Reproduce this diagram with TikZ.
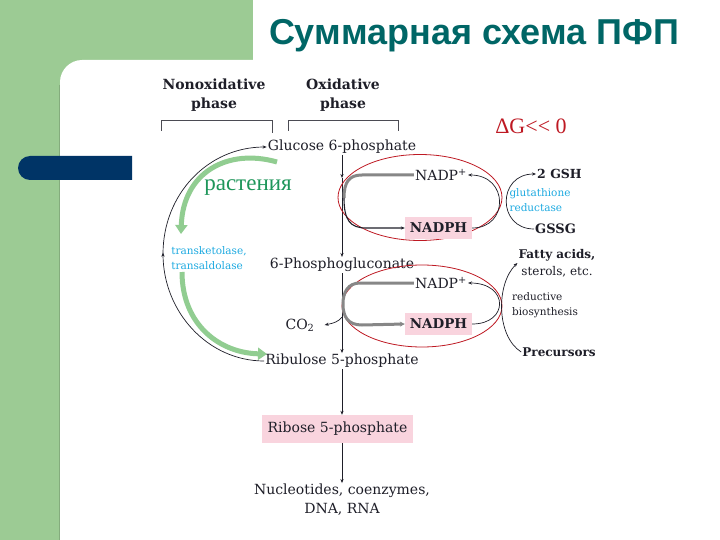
\documentclass[tikz,border=0pt]{standalone}
\usepackage{fontspec}
\setmainfont{DejaVu Serif}
\newfontfamily\titlefont{Liberation Sans}
\newfontfamily\tnr{Liberation Serif}
\usetikzlibrary{arrows.meta,decorations.markings}
\definecolor{bggreen}{RGB}{156,203,148}
\definecolor{barblue}{RGB}{0,52,102}
\definecolor{titlec}{RGB}{0,102,102}
\definecolor{pinkbox}{RGB}{249,212,222}
\definecolor{ellred}{RGB}{190,25,35}
\definecolor{cyant}{RGB}{30,170,225}
\definecolor{arcgreen}{RGB}{145,205,145}
\definecolor{txtgreen}{RGB}{30,150,90}
\definecolor{cofgrey}{RGB}{135,135,135}
\definecolor{ink}{RGB}{30,30,40}
\begin{document}
\begin{tikzpicture}[x=1pt,y=-1pt,
  lbl/.style={inner sep=1pt, text=ink, font=\fontsize{14}{16}\selectfont},
  boldlbl/.style={inner sep=1pt, text=ink, font=\fontsize{13}{15}\selectfont\bfseries},
  smalllbl/.style={inner sep=1pt, align=left, font=\fontsize{10.5}{15}\selectfont},
  pinkb/.style={fill=pinkbox, inner sep=0pt, text=ink, minimum width=67pt, minimum height=22pt, font=\fontsize{13.5}{15}\selectfont\bfseries},
  conn/.style={draw=ink, line width=0.7pt, -{Stealth[length=4pt,width=3.2pt]}},
  bracket/.style={draw=ink!80, line width=0.8pt},
  ell/.style={draw=ellred, line width=0.8pt},
  greenarc/.style={draw=arcgreen, line width=5pt, -{Triangle[length=9pt,width=12pt]}},
  cof/.style={draw=cofgrey, line width=3pt},
  midarrow/.style={postaction={decorate}, decoration={markings, mark=at position 0.5 with {\arrow{Stealth[length=4pt,width=3.2pt]}}}}
]
\useasboundingbox (0,0) rectangle (720,540);
% background
\fill[bggreen] (0,0) rectangle (720,540);
\fill[white] (253,0) rectangle (720,61);
\fill[white] (60,540) -- (60,82) .. controls (60,70) and (70,60) .. (82,60) -- (720,60) -- (720,540) -- cycle;
\draw[bggreen!70!black, line width=1pt, opacity=0.5] (59.5,85) -- (59.5,540);
\fill[barblue] (132,156) -- (30,156) .. controls (23.4,156) and (18,161.4) .. (18,168) .. controls (18,174.6) and (23.4,180) .. (30,180) -- (132,180) -- cycle;
% title
\node[text=titlec, font=\titlefont\fontsize{36}{40}\selectfont\bfseries] (title) at (474,36) {Суммарная схема ПФП};

% phase headings
\node[boldlbl, align=center, font=\fontsize{14}{19}\selectfont\bfseries] (nonox) at (214,95) {Nonoxidative\\phase};
\node[boldlbl, align=center, font=\fontsize{14}{19}\selectfont\bfseries] (oxid) at (343,95) {Oxidative\\phase};
\draw[bracket] (161,131) -- (161,120) -- (272,120) -- (272,133);
\draw[bracket] (288,131) -- (288,120) -- (398,120) -- (398,131);

\node[text=ellred, font=\tnr\fontsize{22}{24}\selectfont] (dg) at (531,126) {ΔG<\kern0pt< 0};

% main chain
\node[lbl] (glc) at (342,147) {Glucose 6-phosphate};
\node[lbl] (pg) at (342,265) {6-Phosphogluconate};
\node[lbl] (rib) at (342,361) {Ribulose 5-phosphate};
\node[lbl, fill=pinkbox, inner sep=0pt, minimum width=151pt, minimum height=28pt] (r5p) at (337.5,429) {Ribose 5-phosphate};
\node[lbl, align=center, font=\fontsize{14}{19}\selectfont] (nuc) at (342,500) {Nucleotides, coenzymes,\\DNA, RNA};
\node[lbl] (co2) at (300,325) {CO\textsubscript{2}};

\coordinate (m1) at (342,178);
\coordinate (b1) at (342,317);
\draw[conn] (glc.south) -- (m1);
\draw[conn] (m1) -- (pg.north);
\draw[conn] (pg.south) -- (rib.north);
\draw[conn] (rib.south) -- (rib.south |- r5p.north);
\draw[conn] (nuc.north |- r5p.south) -- (nuc.north);
\draw[conn] (b1) .. controls (338,322) and (334,323) .. ([xshift=9pt]co2.east);

% cofactors
\draw[ell] (420,197.5) ellipse [x radius=82, y radius=43];
\draw[ell] (422,306) ellipse [x radius=80, y radius=41];
\node[lbl] (nadp1) at (441,175) {NADP\textsuperscript{+}};
\node[pinkb] (nadph1) at (438.5,228) {NADPH};
\node[lbl] (nadp2) at (441,283) {NADP\textsuperscript{+}};
\node[pinkb] (nadph2) at (438.5,324) {NADPH};

\coordinate (c1) at (344,198);
\draw[cof] (nadp1.west) -- (362,175) .. controls (349,175) and (344,182) .. (c1);
\draw[conn, line width=1.1pt] (c1) .. controls (344,220) and (350,228) .. (366,228) -- (nadph1.west);
\draw[cof, -{Stealth[length=5pt,width=5pt]}] (nadp2.west) -- (360,283) .. controls (348,283) and (343,292) .. (343,304) .. controls (343,317) and (348,325) .. (362,325) -- (nadph2.west);

% right side
\node[boldlbl, anchor=west, font=\fontsize{12.5}{14}\selectfont\bfseries] (gsh) at (536,174) {2 GSH};
\node[boldlbl, anchor=west] (gssg) at (534,229) {GSSG};
\node[smalllbl, text=cyant] (gr) at (540,200) {glutathione\\reductase};
\node[inner sep=1pt, text=ink, align=center, font=\fontsize{12}{17}\selectfont] (fatty) at (557,263) {\bfseries Fatty acids,\\sterols, etc.};
\node[smalllbl, text=ink] (rb) at (545,305) {reductive\\biosynthesis};
\node[boldlbl, font=\fontsize{12}{14}\selectfont\bfseries] (prec) at (559,352) {Precursors};

\draw[conn] (nadph1.east) .. controls (509,228) and (509,175) .. (nadp1.east);
\draw[conn] (gssg.west) .. controls (497,229) and (497,174) .. (gsh.west);
\draw[conn] (nadph2.east) .. controls (509,324) and (509,283) .. (nadp2.east);
\draw[conn] (prec.west) .. controls (496,336) and (496,284) .. (fatty.west);

% left side
\node[smalllbl, text=cyant] (tk) at (209,258) {transketolase,\\transaldolase};
\node[text=txtgreen, font=\tnr\fontsize{23}{25}\selectfont] (rast) at (248,188) {растения};
\draw[conn, midarrow] (rib.west) .. controls (208,361) and (163,312) .. (163,254) .. controls (163,194) and (208,147) .. (glc.west);
\draw[greenarc] (277,162) .. controls (228,148) and (183,172) .. (181,234);
\draw[greenarc] (182,272) .. controls (182,325) and (220,353) .. (267,354);
\end{tikzpicture}
\end{document}
